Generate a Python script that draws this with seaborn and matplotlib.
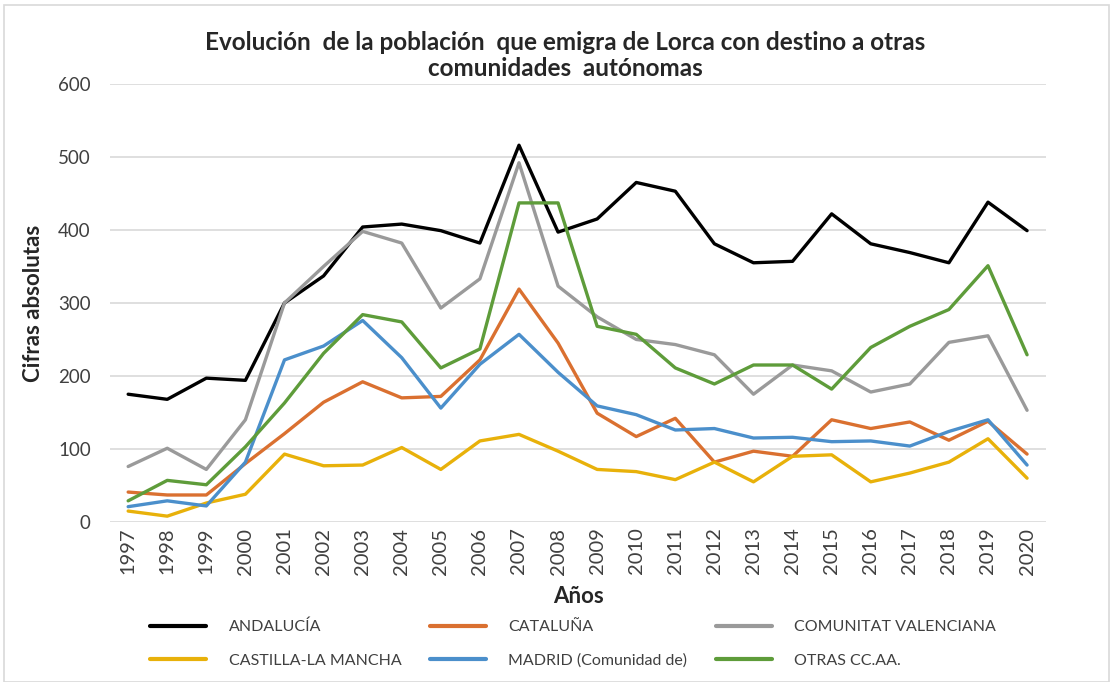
import numpy as np
import pandas as pd
import matplotlib.pyplot as plt
import seaborn as sns
from matplotlib.lines import Line2D
from matplotlib.patches import Rectangle

years = list(range(1997, 2021))

andalucia = [175, 168, 197, 194, 300, 337, 404, 408, 399, 382, 516, 397,
             415, 465, 453, 381, 355, 357, 422, 381, 369, 355, 438, 399]
cataluna = [41, 37, 37, 80, 121, 164, 192, 170, 172, 222, 319, 245,
            149, 117, 142, 82, 97, 90, 140, 128, 137, 112, 138, 93]
valenciana = [76, 101, 72, 140, 300, 350, 398, 382, 293, 333, 492, 323,
              281, 250, 243, 229, 175, 215, 207, 178, 189, 246, 255, 153]
castilla = [15, 8, 26, 38, 93, 77, 78, 102, 72, 111, 120, 97,
            72, 69, 58, 82, 55, 90, 92, 55, 67, 82, 114, 60]
madrid = [21, 29, 22, 82, 222, 241, 276, 225, 156, 216, 257, 205,
          159, 147, 126, 128, 115, 116, 110, 111, 104, 124, 140, 78]
otras = [29, 57, 51, 103, 163, 231, 284, 274, 211, 237, 437, 437,
         268, 257, 211, 189, 215, 215, 182, 239, 268, 291, 351, 229]

series_names = ['ANDALUCÍA', 'CATALUÑA', 'COMUNITAT VALENCIANA',
                'CASTILLA-LA MANCHA', 'MADRID (Comunidad de)', 'OTRAS CC.AA.']
series_values = [andalucia, cataluna, valenciana, castilla, madrid, otras]
colors = ['#000000', '#DA7030', '#9A9A9A', '#E8B10A', '#4B8FCB', '#5E9C3A']

rows = []
for name, vals in zip(series_names, series_values):
    for i, v in enumerate(vals):
        rows.append({'idx': i, 'year': years[i], 'serie': name, 'valor': v})
df = pd.DataFrame(rows)

sns.set_style('white')
plt.rcParams['font.family'] = ['Lato', 'DejaVu Sans']

fig = plt.figure(figsize=(11.13, 6.82), dpi=100)
ax = fig.add_axes([0.099, 0.2346, 0.841, 0.6424])

sns.lineplot(data=df, x='idx', y='valor', hue='serie', hue_order=series_names,
             palette=colors, linewidth=2.4, legend=False, ax=ax)

ax.set_xlim(-0.46, 23.49)
ax.set_ylim(0, 600)
ax.set_yticks(range(0, 601, 100))
ax.set_xticks(range(len(years)))
ax.set_xticklabels([str(y) for y in years], rotation=90)
ax.tick_params(axis='both', length=0, labelcolor='#404040')
ax.tick_params(axis='y', pad=14, labelsize=13.5)
ax.tick_params(axis='x', pad=4, labelsize=14.5)
ax.grid(axis='y', color='#d9d9d9', linewidth=1.2)
ax.set_axisbelow(True)
for s in ax.spines.values():
    s.set_visible(False)

ax.set_xlabel('Años', fontsize=16, fontweight='bold', labelpad=8)
ax.set_ylabel('Cifras absolutas', fontsize=16, fontweight='bold', labelpad=10)

fig.text(0.508, 0.938, 'Evolución  de la población  que emigra de Lorca con destino a otras',
         ha='center', va='center', fontsize=17.5, fontweight='bold')
fig.text(0.508, 0.899, 'comunidades  autónomas',
         ha='center', va='center', fontsize=17.5, fontweight='bold')

order = [0, 3, 1, 4, 2, 5]
handles = [Line2D([0], [0], color=colors[i], linewidth=3) for i in order]
labels = [series_names[i] for i in order]
fig.legend(handles, labels, ncol=3, loc='center', bbox_to_anchor=(0.515, 0.056),
           frameon=False, fontsize=11.5, handlelength=3.5, columnspacing=1.8,
           labelspacing=1.2, handletextpad=1.4, labelcolor='#404040')

fig.patches.append(Rectangle((0.004, 0.0), 0.992, 0.993, transform=fig.transFigure,
                             fill=False, edgecolor='#d9d9d9', linewidth=1.2))

fig.savefig('out.png', dpi=100)
